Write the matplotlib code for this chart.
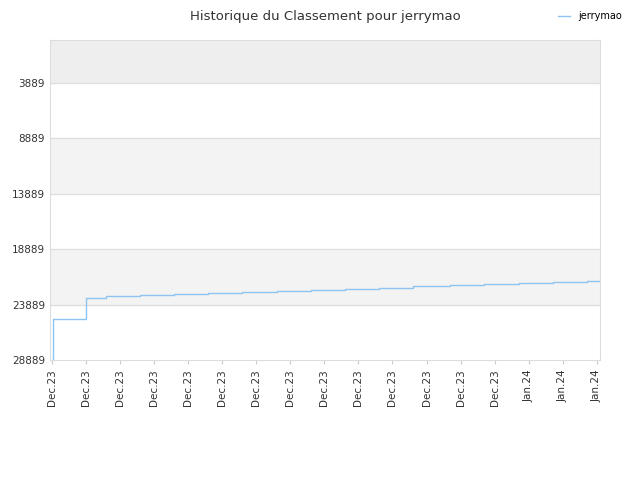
import matplotlib
matplotlib.use("Agg")
import matplotlib.pyplot as plt

tick_labels = ["Dec.23"] * 14 + ["Jan.24"] * 3
# x in tick units, rank values
xs = [0.0, 0.05, 1.0, 1.6, 2.6, 3.6, 4.6, 5.6, 6.6, 7.6, 8.6, 9.6, 10.6, 11.7, 12.7, 13.7, 14.7, 15.7, 16.1, 16.12, 16.15]
ys = [28889, 25200, 23250, 23150, 23050, 22950, 22850, 22750, 22650, 22550, 22450, 22350, 22250, 22150, 22050, 21950, 21850, 21750, 21750, 16500, 16000]

fig = plt.figure(figsize=(6.4, 4.8), dpi=100)
ax = fig.add_axes([0.078, 0.25, 0.86, 0.667])
step_x, step_y = [xs[0]], [ys[0]]
for i in range(1, len(xs)):
    step_x += [xs[i], xs[i]]
    step_y += [ys[i-1], ys[i]]
ax.plot(step_x, step_y, color="#90c4f0", lw=1, label="jerrymao")
ymin, ymax = 28889, 0
ax.set_ylim(ymin, ymax)
ax.set_xlim(-0.05, 16.1)
bands = [(0, 3889, "#eeeeee"), (8889, 13889, "#f3f3f3"), (18889, 23889, "#f3f3f3")]
for a, b, c in bands:
    ax.axhspan(a, b, color=c, zorder=0)
for t in [3889, 8889, 13889, 18889, 23889]:
    ax.axhline(t, color="#dddddd", lw=0.8, zorder=0)
ax.set_yticks([3889, 8889, 13889, 18889, 23889, 28889])
ax.set_xticks(range(17))
ax.set_xticklabels(tick_labels, rotation=90, fontsize=7.5, color="#333333")
ax.tick_params(axis="y", labelsize=7.5, colors="#333333", length=0)
ax.tick_params(axis="x", length=3, color="#cccccc")
for s in ax.spines.values():
    s.set_color("#dddddd")
ax.set_title("Historique du Classement pour jerrymao", fontsize=9.5, color="#333333", pad=14)
fig.legend(loc="upper right", bbox_to_anchor=(0.985, 0.995), frameon=False, fontsize=7, handlelength=1.2)
fig.savefig("out.png")
